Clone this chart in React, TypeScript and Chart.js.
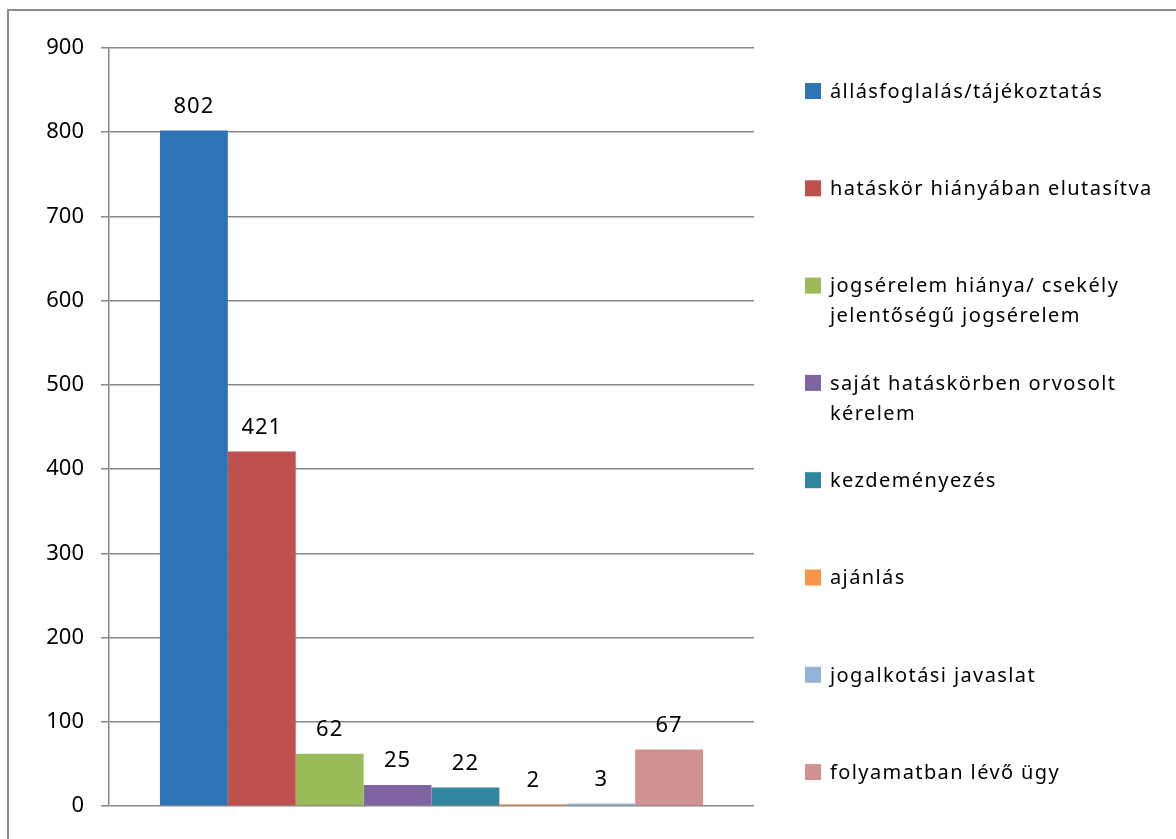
import React, { useEffect, useRef } from "react";
import { Chart, registerables } from "chart.js";

Chart.register(...registerables);

const categories = [""];
const seriesNames = [
  "állásfoglalás/tájékoztatás",
  "hatáskör hiányában elutasítva",
  "jogsérelem hiánya/ csekély jelentőségű jogsérelem",
  "saját hatáskörben orvosolt kérelem",
  "kezdeményezés",
  "ajánlás",
  "jogalkotási javaslat",
  "folyamatban lévő ügy",
];
const seriesValues = [802, 421, 62, 25, 22, 2, 3, 67];
const seriesColors = [
  "#2E74B5",
  "#C0504D",
  "#9BBB59",
  "#8064A2",
  "#31859C",
  "#F79646",
  "#95B3D7",
  "#D19190",
];
const yMin = 0;
const yMax = 900;
const yStep = 100;

const FONT = "'Noto Sans', 'Open Sans', sans-serif";

const framePlugin = {
  id: "frame",
  beforeDraw(chart: any) {
    const ctx = chart.ctx;
    ctx.save();
    ctx.fillStyle = "#ffffff";
    ctx.fillRect(0, 0, chart.width, chart.height);
    ctx.strokeStyle = "#8c8c8c";
    ctx.lineWidth = 2;
    ctx.strokeRect(8, 10, chart.width + 20, chart.height + 20);
    ctx.restore();
  },
};

const valueLabelPlugin = {
  id: "valueLabels",
  afterDatasetsDraw(chart: any) {
    const ctx = chart.ctx;
    ctx.save();
    ctx.font = `22px ${FONT}`;
    (ctx as any).letterSpacing = "1px";
    ctx.fillStyle = "#000000";
    ctx.textAlign = "center";
    ctx.textBaseline = "middle";
    chart.data.datasets.forEach((ds: any, i: number) => {
      const meta = chart.getDatasetMeta(i);
      meta.data.forEach((bar: any, j: number) => {
        ctx.fillText(String(ds.data[j]), bar.x, bar.y - 24);
      });
    });
    ctx.restore();
  },
};

const sideLegendPlugin = {
  id: "sideLegend",
  afterDraw(chart: any) {
    const ctx = chart.ctx;
    const boxX = 805;
    const textX = 830;
    const maxW = 335;
    const top = 91;
    const step = 97.3;
    const lineH = 30;
    ctx.save();
    ctx.font = `20px ${FONT}`;
    (ctx as any).letterSpacing = "1.4px";
    ctx.textAlign = "left";
    ctx.textBaseline = "middle";
    chart.data.datasets.forEach((ds: any, i: number) => {
      const y = top + i * step;
      ctx.fillStyle = ds.backgroundColor;
      ctx.fillRect(boxX, y - 8, 16, 16);
      const words = String(ds.label).split(" ");
      const lines: string[] = [];
      let cur = "";
      words.forEach((w) => {
        const t = cur ? cur + " " + w : w;
        if (cur && ctx.measureText(t).width > maxW) {
          lines.push(cur);
          cur = w;
        } else {
          cur = t;
        }
      });
      if (cur) lines.push(cur);
      ctx.fillStyle = "#000000";
      lines.forEach((ln, k) => {
        ctx.fillText(ln, textX, y + 1 + k * lineH);
      });
    });
    ctx.restore();
  },
};

export default function App() {
  const canvasRef = useRef<HTMLCanvasElement | null>(null);

  useEffect(() => {
    if (!canvasRef.current) return;
    const chart = new Chart(canvasRef.current, {
      type: "bar",
      data: {
        labels: categories,
        datasets: seriesNames.map((name, i) => ({
          label: name,
          data: [seriesValues[i]],
          backgroundColor: seriesColors[i],
          borderWidth: 0,
          categoryPercentage: 0.842,
          barPercentage: 1,
        })),
      },
      options: {
        responsive: false,
        animation: false,
        layout: {
          padding: { left: 0, top: 48, right: 422, bottom: 33 },
        },
        plugins: {
          legend: { display: false },
          tooltip: { enabled: false },
          title: { display: false },
        },
        scales: {
          x: {
            display: false,
          },
          y: {
            min: yMin,
            max: yMax,
            ticks: {
              stepSize: yStep,
              color: "#000000",
              font: { family: FONT, size: 22 },
              padding: 17,
            },
            grid: {
              color: "#878787",
              lineWidth: 1.5,
              drawTicks: true,
              tickLength: 8,
            },
            border: { display: true, color: "#878787", width: 1.5 },
            afterFit(scale: any) {
              scale.width = 109;
            },
          },
        },
      },
      plugins: [framePlugin, valueLabelPlugin, sideLegendPlugin],
    });
    return () => chart.destroy();
  }, []);

  return (
    <div style={{ position: "absolute", left: 0, top: 0, width: 1176, height: 839 }}>
      <canvas ref={canvasRef} width={1176} height={839} />
    </div>
  );
}
